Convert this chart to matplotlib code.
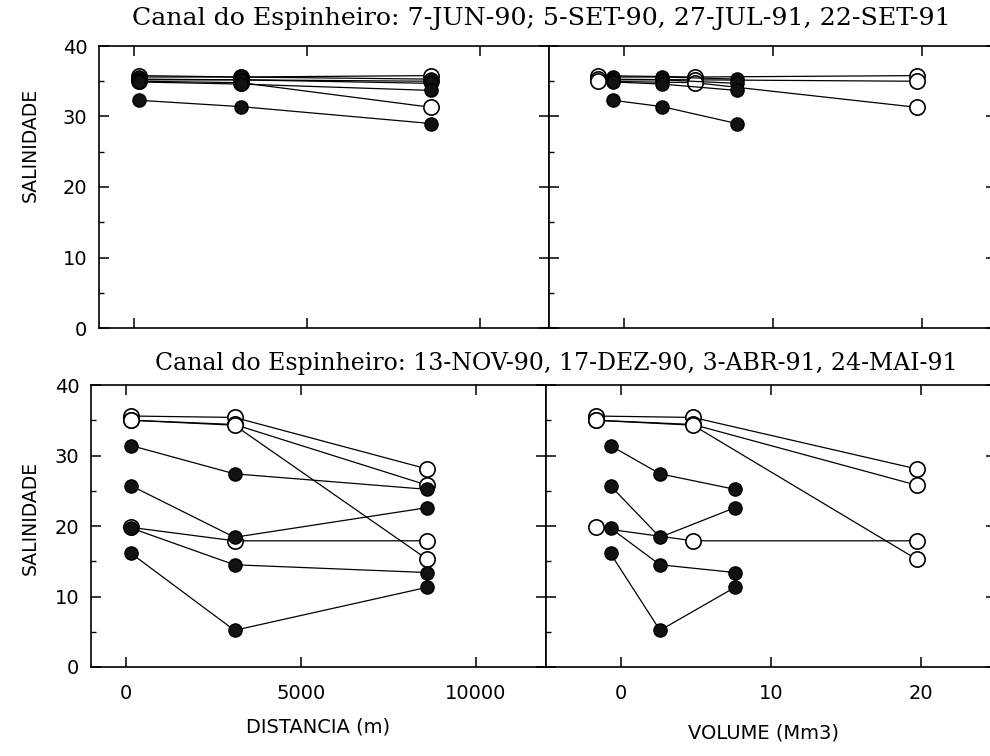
import matplotlib
matplotlib.use("Agg")
import matplotlib.pyplot as plt
from matplotlib.ticker import FixedLocator

# ---------------- data ----------------
# station distances (m) and cumulative volumes (Mm3) for high tide (open) and low tide (filled)
distancia_m = [150, 3100, 8600]
volume_preamar = [-1.7, 4.8, 19.7]
volume_baixamar = [-0.7, 2.6, 7.6]

# top panel: 7-JUN-90; 5-SET-90, 27-JUL-91, 22-SET-91
top_preamar_1 = [35.8, 35.6, 35.8]
top_preamar_2 = [35.3, 35.2, 35.0]
top_preamar_3 = [35.0, 34.8, 31.3]
top_baixamar_1 = [35.6, 35.6, 35.3]
top_baixamar_2 = [35.2, 35.2, 34.7]
top_baixamar_3 = [34.9, 34.6, 33.7]
top_baixamar_4 = [32.3, 31.4, 29.0]

# bottom panel: 13-NOV-90, 17-DEZ-90, 3-ABR-91, 24-MAI-91
bot_preamar_1 = [35.6, 35.4, 28.1]
bot_preamar_2 = [35.0, 34.4, 25.8]
bot_preamar_3 = [35.0, 34.3, 15.3]
bot_preamar_4 = [19.8, 17.9, 17.9]
bot_baixamar_1 = [31.4, 27.4, 25.2]
bot_baixamar_2 = [25.7, 18.4, 22.6]
bot_baixamar_3 = [19.7, 14.5, 13.4]
bot_baixamar_4 = [16.1, 5.2, 11.3]

top_title = "Canal do Espinheiro: 7-JUN-90; 5-SET-90, 27-JUL-91, 22-SET-91"
bot_title = "Canal do Espinheiro: 13-NOV-90, 17-DEZ-90, 3-ABR-91, 24-MAI-91"
ylabel = "SALINIDADE"
xlabel_left = "DISTANCIA (m)"
xlabel_right = "VOLUME (Mm3)"
dist_ticks = [0, 5000, 10000]
vol_ticks = [0, 10, 20]
sal_ticks = [0, 10, 20, 30, 40]

top_open = [top_preamar_1, top_preamar_2, top_preamar_3]
top_filled = [top_baixamar_1, top_baixamar_2, top_baixamar_3, top_baixamar_4]
bot_open = [bot_preamar_1, bot_preamar_2, bot_preamar_3, bot_preamar_4]
bot_filled = [bot_baixamar_1, bot_baixamar_2, bot_baixamar_3, bot_baixamar_4]

# ---------------- figure ----------------
W, H = 990, 756
fig = plt.figure(figsize=(W / 100, H / 100), dpi=100)
fig.patch.set_facecolor("white")
plt.rcParams['font.family'] = ['DejaVu Sans']


def rect(x0, y0, x1, y1):
    return [x0 / W, 1 - y1 / H, (x1 - x0) / W, (y1 - y0) / H]


def style(ax, left, bottom_labels):
    for s in ax.spines.values():
        s.set_linewidth(1.2)
    ax.set_ylim(0, 40)
    ax.yaxis.set_major_locator(FixedLocator(sal_ticks))
    ax.yaxis.set_minor_locator(FixedLocator([5, 15, 25, 35]))
    ax.tick_params(axis='both', which='major', direction='in', length=7, width=1.1,
                   labelsize=14, top=True, bottom=True, left=True, right=True)
    ax.tick_params(axis='y', which='minor', direction='in', length=3.5, width=1.0,
                   left=True, right=False)
    ax.tick_params(axis='y', which='major', pad=8.5, labelleft=left)
    ax.tick_params(axis='x', which='major', pad=12, labelbottom=bottom_labels)


def draw(ax, xo, xf, opens, filleds):
    for ys in opens:
        ax.plot(xo, ys, '-o', color='black', lw=0.9, ms=11, mfc='white',
                mec='black', mew=1.2, zorder=3)
    for ys in filleds:
        ax.plot(xf, ys, '-o', color='black', lw=0.9, ms=9.5, mfc='#111111',
                mec='black', mew=1.0, zorder=4)


# top panels
ax1 = fig.add_axes(rect(99, 46, 549, 328))
ax2 = fig.add_axes(rect(549, 46, 996, 328))
# bottom panels
ax3 = fig.add_axes(rect(91, 385, 546, 667))
ax4 = fig.add_axes(rect(546, 385, 996, 667))

for ax in (ax1, ax3):
    ax.set_xlim(-1000, 12000)
    ax.xaxis.set_major_locator(FixedLocator(dist_ticks))
for ax in (ax2, ax4):
    ax.set_xlim(-5, 25)
    ax.xaxis.set_major_locator(FixedLocator(vol_ticks))

style(ax1, True, False)
style(ax2, False, False)
style(ax3, True, True)
style(ax4, False, True)

draw(ax1, distancia_m, distancia_m, top_open, top_filled)
draw(ax2, volume_preamar, volume_baixamar, top_open, top_filled)
draw(ax3, distancia_m, distancia_m, bot_open, bot_filled)
draw(ax4, volume_preamar, volume_baixamar, bot_open, bot_filled)

for ax in (ax1, ax2, ax3, ax4):
    for t in ax.get_xticklabels() + ax.get_yticklabels():
        t.set_fontsize(14)

# titles
fig.text(541 / W, 1 - 19 / H, top_title, family='DejaVu Serif', fontsize=18.2,
         ha='center', va='center')
fig.text(556 / W, 1 - 363 / H, bot_title, family='DejaVu Serif', fontsize=17.0,
         ha='center', va='center')

# axis labels
fig.text(30 / W, 1 - 145 / H, ylabel, rotation=90, fontsize=13.5, ha='center', va='center')
fig.text(30 / W, 1 - 518 / H, ylabel, rotation=90, fontsize=13.5, ha='center', va='center')
fig.text(318 / W, 1 - 727 / H, xlabel_left, fontsize=14, ha='center', va='center')
fig.text(764 / W, 1 - 733 / H, xlabel_right, fontsize=14, ha='center', va='center')

fig.savefig("out.png", dpi=100, facecolor="white")
